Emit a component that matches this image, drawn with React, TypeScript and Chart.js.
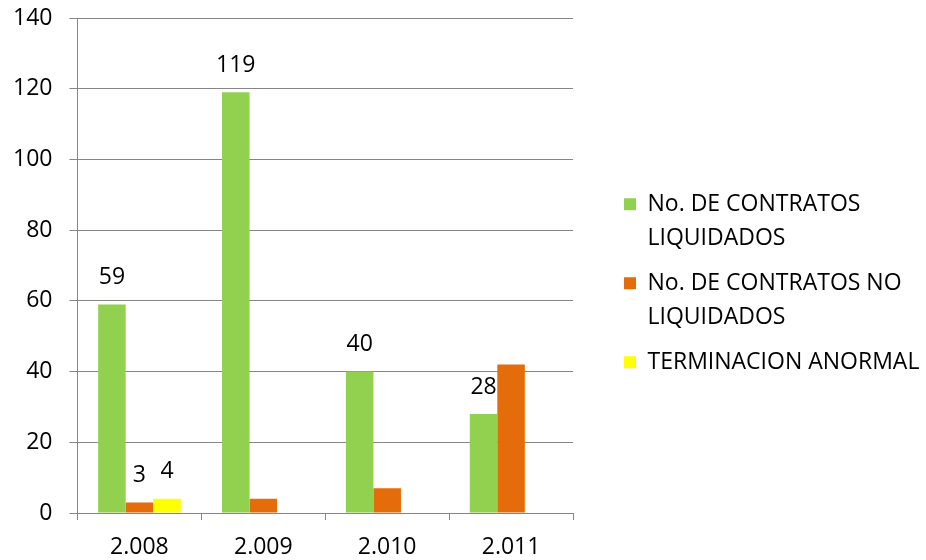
import React, { useEffect, useRef } from "react";
import { Chart, registerables } from "chart.js";

Chart.register(...registerables);

const categories = ["2.008", "2.009", "2.010", "2.011"];

const liquidados = [59, 119, 40, 28];
const noLiquidados = [3, 4, 7, 42];
const terminacionAnormal = [4, null, null, null];

const showLiquidadosLabels = [true, true, true, true];
const showNoLiquidadosLabels = [true, false, false, false];
const showTerminacionLabels = [true, false, false, false];

const seriesNames = [
  ["No. DE CONTRATOS", "LIQUIDADOS"],
  ["No. DE CONTRATOS NO", "LIQUIDADOS"],
  ["TERMINACION ANORMAL"],
];
const seriesColors = ["#92D050", "#E46C0A", "#FFFF00"];

const yTicks = [0, 20, 40, 60, 80, 100, 120, 140];

const FONT = '"Open Sans", "DejaVu Sans", sans-serif';
const GRID = "#868686";

const labelFlags = [showLiquidadosLabels, showNoLiquidadosLabels, showTerminacionLabels];

const dataLabelPlugin = {
  id: "dataLabels",
  afterDatasetsDraw(chart: any) {
    const ctx = chart.ctx;
    ctx.save();
    ctx.font = `23px ${FONT}`;
    ctx.fillStyle = "#000";
    ctx.textAlign = "center";
    ctx.textBaseline = "middle";
    chart.data.datasets.forEach((ds: any, di: number) => {
      const meta = chart.getDatasetMeta(di);
      meta.data.forEach((el: any, i: number) => {
        const v = ds.data[i];
        if (v === null || v === undefined || !labelFlags[di][i]) return;
        ctx.fillText(String(v), el.x, el.y - 27);
      });
    });
    ctx.restore();
  },
};

export default function App() {
  const ref = useRef<HTMLCanvasElement>(null);

  useEffect(() => {
    if (!ref.current) return;
    const datasets = [liquidados, noLiquidados, terminacionAnormal].map((d, i) => ({
      label: seriesNames[i].join(" "),
      data: d,
      backgroundColor: seriesColors[i],
      borderWidth: 0,
      categoryPercentage: 3 / 4.5,
      barPercentage: 1,
    }));
    const chart = new Chart(ref.current, {
      type: "bar",
      data: { labels: categories, datasets },
      plugins: [dataLabelPlugin],
      options: {
        animation: false,
        responsive: false,
        layout: { padding: { top: 18, left: 13, right: 0, bottom: 0 } },
        plugins: {
          tooltip: { enabled: false },
          legend: {
            position: "right",
            align: "center",
            maxWidth: 312,
            labels: {
              boxWidth: 12,
              boxHeight: 12,
              padding: 10,
              color: "#000",
              font: { family: FONT, size: 23, lineHeight: 1.5 },
              generateLabels: (chart: any) =>
                chart.data.datasets.map((ds: any, i: number) => ({
                  text: seriesNames[i],
                  fillStyle: ds.backgroundColor,
                  strokeStyle: ds.backgroundColor,
                  lineWidth: 0,
                  hidden: false,
                  datasetIndex: i,
                })),
            },
          },
        },
        scales: {
          x: {
            grid: {
              offset: true,
              drawOnChartArea: false,
              drawTicks: true,
              tickLength: 7,
              color: GRID,
            },
            border: { display: true, color: GRID },
            ticks: {
              color: "#000",
              padding: 16,
              font: { family: FONT, size: 23, lineHeight: 1 },
            },
            afterFit: (scale: any) => {
              scale.height = 47;
              scale.paddingLeft = 0;
              scale.paddingRight = 0;
            },
          },
          y: {
            min: 0,
            max: 140,
            afterBuildTicks: (scale: any) => {
              scale.ticks = yTicks.map((v) => ({ value: v }));
            },
            grid: { color: GRID, tickLength: 8 },
            border: { display: true, color: GRID },
            ticks: {
              color: "#000",
              padding: 17,
              font: { family: FONT, size: 23, lineHeight: 1 },
            },
            afterFit: (scale: any) => {
              scale.width = 64.5;
              scale.paddingTop = 0;
              scale.paddingBottom = 0;
            },
          },
          y2: {
            position: "right",
            display: true,
            grid: { display: false, drawTicks: false },
            border: { display: false },
            ticks: { display: false },
            afterFit: (scale: any) => {
              scale.width = 41;
              scale.paddingTop = 0;
              scale.paddingBottom = 0;
            },
          },
        },
      },
    });
    return () => chart.destroy();
  }, []);

  return (
    <div style={{ position: "absolute", left: 0, top: 0, width: 926, height: 560 }}>
      <canvas ref={ref} width={926} height={560} style={{ display: "block" }} />
    </div>
  );
}
